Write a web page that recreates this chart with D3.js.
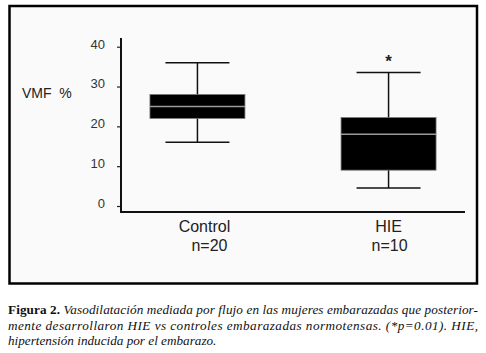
<!DOCTYPE html>
<html>
<head>
<meta charset="utf-8">
<script src="https://cdn.jsdelivr.net/npm/d3@7"></script>
<style>
  body { margin: 0; background: #fff; }
  svg { display: block; }
  .caption { font-family: "Liberation Serif", "Times New Roman", serif; font-size: 13.2px; fill: #111; }
  .sans { font-family: Arial, "Liberation Sans", sans-serif; }
</style>
</head>
<body>
<svg id="chart"></svg>
<script>
// data
const groups = ["Control", "HIE"];
const sampleSizes = ["n=20", "n=10"];
const whiskerLow = [16, 4.5];
const q1 = [22, 9];
const medians = [25, 18];
const q3 = [28, 22.2];
const whiskerHigh = [36, 33.5];
const significant = [false, true];
const yTicks = [0, 10, 20, 30, 40];
const captionLines = [
  ["Figura 2. ", "Vasodilatación mediada por flujo en las mujeres embarazadas que posterior-"],
  ["", "mente desarrollaron HIE vs controles embarazadas normotensas. (*p=0.01). HIE,"],
  ["", "hipertensión inducida por el embarazo."]
];

const width = 486, height = 353;
const svg = d3.select("#chart").attr("width", width).attr("height", height);

// frame
svg.append("rect").attr("x", 9.5).attr("y", 6).attr("width", 467.5).attr("height", 277.5)
  .attr("fill", "#fafafa").attr("stroke", "#000").attr("stroke-width", 2.5);

var margin = {left: 121, top: 38, bottom: 212, right: 465};

var yScale = d3.scaleLinear().domain([0, 40]).range([206, 46.7]);
var xScale = d3.scaleBand().domain(groups).range([margin.left, margin.right]).paddingInner(0.3).paddingOuter(0.05);

// y axis
var yAxis = svg.append("g").attr("transform", `translate(${margin.left},0)`)
  .call(d3.axisLeft(yScale).tickValues(yTicks).tickSize(4).tickPadding(12));
yAxis.select(".domain").remove();
yAxis.selectAll("line").attr("stroke", "#222").attr("stroke-width", 1.2);
yAxis.selectAll("text").attr("class", "sans").attr("font-family", null)
  .attr("font-size", 13).attr("fill", "#333").attr("dy", "0.1em");

svg.append("line").attr("x1", margin.left).attr("x2", margin.left).attr("y1", margin.top).attr("y2", margin.bottom)
  .attr("stroke", "#111").attr("stroke-width", 2);
svg.append("line").attr("x1", margin.left - 1).attr("x2", margin.right).attr("y1", margin.bottom).attr("y2", margin.bottom)
  .attr("stroke", "#111").attr("stroke-width", 2);

svg.append("text").attr("class", "sans").attr("x", 22).attr("y", 98).text("VMF  %")
  .attr("font-size", 14).attr("fill", "#222").attr("xml:space", "preserve");

// boxes
var boxW = 95, capW = 64;
var boxes = svg.append("g").selectAll("g").data(groups).join("g")
  .attr("transform", (d) => `translate(${xScale(d) + xScale.bandwidth()/2},0)`);

boxes.append("line").attr("x1", 0).attr("x2", 0)
  .attr("y1", (d, i) => yScale(whiskerHigh[i])).attr("y2", (d, i) => yScale(whiskerLow[i]))
  .attr("stroke", "#111").attr("stroke-width", 1.5);
boxes.append("line").attr("x1", -capW/2).attr("x2", capW/2)
  .attr("y1", (d, i) => yScale(whiskerHigh[i])).attr("y2", (d, i) => yScale(whiskerHigh[i]))
  .attr("stroke", "#111").attr("stroke-width", 1.5);
boxes.append("line").attr("x1", -capW/2).attr("x2", capW/2)
  .attr("y1", (d, i) => yScale(whiskerLow[i])).attr("y2", (d, i) => yScale(whiskerLow[i]))
  .attr("stroke", "#111").attr("stroke-width", 1.5);
boxes.append("rect").attr("x", -boxW/2).attr("width", boxW)
  .attr("y", (d, i) => yScale(q3[i])).attr("height", (d, i) => yScale(q1[i]) - yScale(q3[i]))
  .attr("fill", "#000").attr("stroke", "#777").attr("stroke-width", 0.8);
boxes.append("line").attr("x1", -boxW/2).attr("x2", boxW/2)
  .attr("y1", (d, i) => yScale(medians[i])).attr("y2", (d, i) => yScale(medians[i]))
  .attr("stroke", "#9a9a9a").attr("stroke-width", 1.5);
boxes.filter((d, i) => significant[i]).append("text").attr("class", "sans")
  .attr("x", 0).attr("y", (d) => yScale(whiskerHigh[groups.indexOf(d)]) - 6)
  .attr("text-anchor", "middle").text("*")
  .attr("font-size", 17).attr("font-weight", "bold").attr("fill", "#222");

// category labels
boxes.append("text").attr("class", "sans").attr("x", (d, i) => i === 0 ? 7 : 0).attr("y", 232).attr("text-anchor", "middle")
  .text(d => d).attr("font-size", 16).attr("fill", "#222");
boxes.append("text").attr("class", "sans").attr("x", (d, i) => i === 0 ? 12 : 1).attr("y", 251).attr("text-anchor", "middle")
  .text((d, i) => sampleSizes[i]).attr("font-size", 16).attr("fill", "#222");

// caption
var capY = [314, 329.5, 344.5];
captionLines.forEach((line, i) => {
  var t = svg.append("text").attr("class", "caption").attr("x", 8).attr("y", capY[i]);
  if (i < 2) t.attr("textLength", 470).attr("lengthAdjust", "spacing");
  if (line[0]) t.append("tspan").attr("font-weight", "bold").text(line[0]);
  t.append("tspan").attr("font-style", "italic").text(line[1]);
});
</script>
</body>
</html>
